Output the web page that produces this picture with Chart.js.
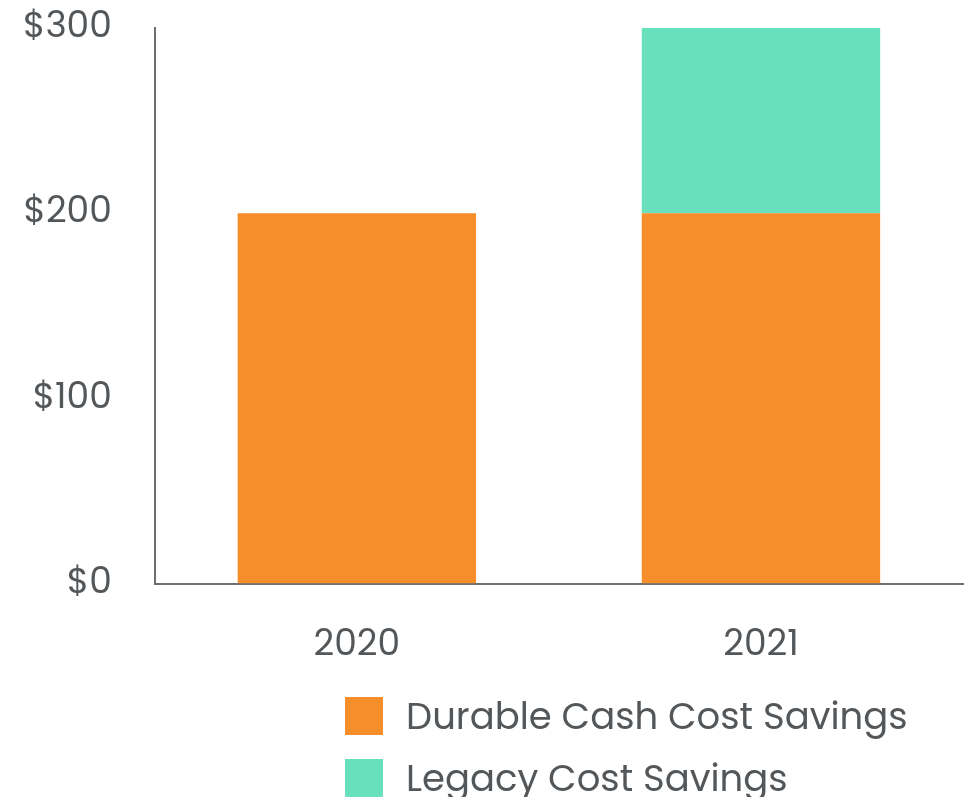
<!DOCTYPE html>
<html>
<head>
<meta charset="utf-8">
<script src="https://cdn.jsdelivr.net/npm/chart.js@4"></script>
<style>
  html, body { margin: 0; padding: 0; background: #fff; overflow: hidden; }
  #wrap { position: relative; width: 969px; height: 797px; }
  #chart { display: block; }
  #legend { position: absolute; left: 345px; top: 685px; font-family: Poppins, 'Open Sans', sans-serif; font-size: 37px; color: #53575a; }
  .item { display: flex; align-items: center; height: 62px; }
  .swatch { width: 38px; height: 38px; margin-right: 23px; }
</style>
</head>
<body>
<div id="wrap">
  <canvas id="chart" width="969" height="797"></canvas>
  <div id="legend"></div>
</div>
<script>
const TEXT_COLOR = '#53575a';
const AXIS_COLOR = '#6d6e70';
const FONT = "Poppins, 'Open Sans', sans-serif";

const years = ['2020', '2021'];
const durableSavings = [200, 200];
const legacySavings = [0, 100];
const yTicks = [0, 100, 200, 300];

const seriesNames = ['Durable Cash Cost Savings', 'Legacy Cost Savings'];
const seriesColors = ['#f78e2c', '#68e0bb'];

const ctx = document.getElementById('chart').getContext('2d');

// tick padding also pads the chart area in chart.js, so use invisible tick marks for the gap instead
const chart = new Chart(ctx, {
    type: 'bar',
    data: {
        labels: years,
        datasets: [
            { label: seriesNames[0], data: durableSavings, backgroundColor: seriesColors[0] },
            { label: seriesNames[1], data: legacySavings, backgroundColor: seriesColors[1] },
        ],
    },
    options: {
        responsive: false,
        animation: false,
        layout: { padding: { top: 28, right: 6, bottom: 129, left: 23 } },
        datasets: { bar: { categoryPercentage: 1, barPercentage: 0.59 } },
        scales: {
            x: {
                stacked: true,
                grid: { drawOnChartArea: false, drawTicks: true, tickLength: 41, color: 'rgba(0,0,0,0)' },
                border: { display: true, color: AXIS_COLOR, width: 2 },
                ticks: { color: TEXT_COLOR, padding: 0, font: { family: FONT, size: 36 } },
            },
            y: {
                stacked: true,
                min: 0,
                max: 300,
                afterBuildTicks: (axis) => { axis.ticks = yTicks.map(v => ({ value: v })); },
                grid: { drawOnChartArea: false, drawTicks: true, tickLength: 43, color: 'rgba(0,0,0,0)' },
                border: { display: true, color: AXIS_COLOR, width: 2 },
                ticks: {
                    color: TEXT_COLOR,
                    padding: 0,
                    font: { family: FONT, size: 36 },
                    callback: (v) => '$' + v,
                },
            },
        },
        plugins: {
            legend: { display: false },
            tooltip: { enabled: false },
        },
    },
});

// html legend, stacked vertically like the original
const legendEl = document.getElementById('legend');
chart.data.datasets.forEach(ds => {
    const row = document.createElement('div');
    row.className = 'item';
    row.innerHTML = `<span class="swatch" style="background:${ds.backgroundColor}"></span><span>${ds.label}</span>`;
    legendEl.appendChild(row);
});
</script>
</body>
</html>
